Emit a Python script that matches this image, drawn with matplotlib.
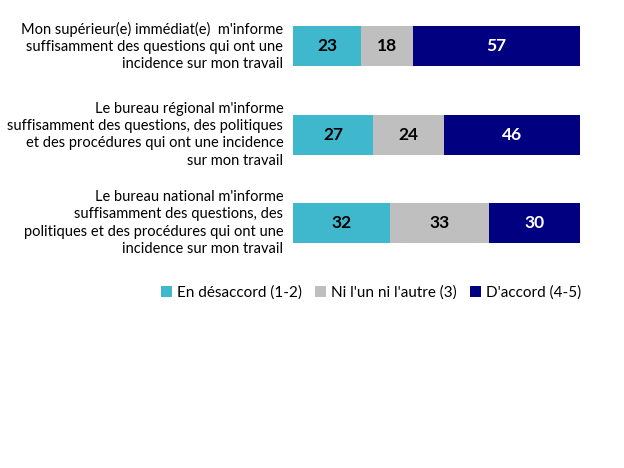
import matplotlib
matplotlib.use("Agg")
import matplotlib.pyplot as plt
import matplotlib.transforms as mtransforms
from matplotlib.patches import Patch
import numpy as np

plt.rcParams['font.family'] = ['Lato', 'DejaVu Sans']

categories = [
    "Mon supérieur(e) immédiat(e)  m'informe\nsuffisamment des questions qui ont une\nincidence sur mon travail",
    "Le bureau régional m'informe\nsuffisamment des questions, des politiques\net des procédures qui ont une incidence\nsur mon travail",
    "Le bureau national m'informe\nsuffisamment des questions, des\npolitiques et des procédures qui ont une\nincidence sur mon travail",
]
series_names = ["En désaccord (1-2)", "Ni l'un ni l'autre (3)", "D'accord (4-5)"]
desaccord = [23, 27, 32]
neutre = [18, 24, 33]
accord = [57, 46, 30]

colors = ["#3FB8CE", "#BFBFBF", "#000080"]
text_colors = ["black", "black", "white"]

fig = plt.figure(figsize=(6.24, 4.68), dpi=100)
ax = fig.add_axes([293.3 / 624, 1 - 250 / 468, (580 - 293.3) / 624, 230 / 468])

data = np.array([desaccord, neutre, accord], dtype=float)
totals = data.sum(axis=0)
shares = data / totals * 100
y = np.arange(len(categories))
left = np.zeros(len(categories))
for s in range(3):
    ax.barh(y, shares[s], left=left, height=0.455, color=colors[s], edgecolor='none')
    for i in range(len(categories)):
        ax.text(left[i] + shares[s][i] / 2, y[i], f"{int(data[s][i])}", ha='center', va='center',
                fontsize=12.5, fontweight='bold', color=text_colors[s])
    left += shares[s]

ax.set_xlim(0, 100)
ax.set_ylim(2.307, -0.298)
ax.axis('off')

trans = mtransforms.blended_transform_factory(ax.transAxes, ax.transData)
for i, lab in enumerate(categories):
    ax.text(-0.035, y[i], lab, transform=trans, ha='right', va='center', multialignment='right',
            fontsize=10.5, linespacing=1.3, color='black')

handles = [Patch(facecolor=c, edgecolor='none') for c in colors]
fig.legend(handles, series_names, loc='center', bbox_to_anchor=(371 / 624, 1 - 293 / 468), ncol=3,
           frameon=False, fontsize=11, handlelength=0.75, handleheight=0.75, handletextpad=0.3,
           columnspacing=0.85)

fig.savefig("out.png", dpi=100, facecolor='white')
